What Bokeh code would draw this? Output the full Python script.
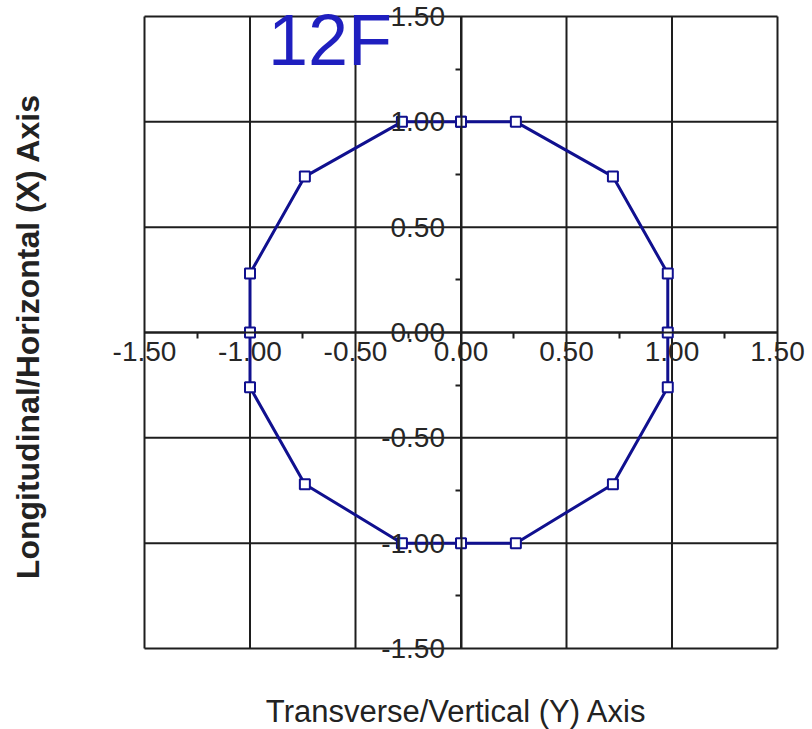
from bokeh.plotting import figure
from bokeh.models import (Range1d, LinearAxis, FixedTicker, NumeralTickFormatter,
                          Label, ColumnDataSource)
from bokeh.embed import file_html
from bokeh.resources import INLINE

# ---- data ----
x_vals = [0.0, 0.26, 0.72, 0.98, 0.98, 0.98, 0.72, 0.26, 0.0,
          -0.28, -0.74, -1.0, -1.0, -1.0, -0.74, -0.28, 0.0]
y_vals = [1.0, 1.0, 0.74, 0.28, 0.0, -0.26, -0.72, -1.0, -1.0,
          -1.0, -0.72, -0.26, 0.0, 0.28, 0.74, 1.0, 1.0]
major_ticks = [-1.5, -1.0, -0.5, 0.0, 0.5, 1.0, 1.5]
minor_ticks = [-1.25, -0.75, -0.25, 0.25, 0.75, 1.25]
title_text = "12F"
x_title = "Transverse/Vertical (Y) Axis"
y_title = "Longitudinal/Horizontal (X) Axis"

FONT = "Liberation Sans"
LINE_BLUE = "#10108f"
DARK = "#1e1e1e"

# pixel layout: box of the grid (-1.5..1.5) spans 633 x 632 px;
# the frame is padded so the edge tick labels are not clipped
SX = 633 / 3.0
SY = 632 / 3.0
pad_l, pad_r, pad_t, pad_b = 42, 33, 14, 22
x_range = Range1d(-1.5 - pad_l / SX, 1.5 + pad_r / SX)
y_range = Range1d(-1.5 - pad_b / SY, 1.5 + pad_t / SY)

p = figure(frame_width=633 + pad_l + pad_r, frame_height=632 + pad_t + pad_b,
           x_range=x_range, y_range=y_range,
           x_axis_location=None, y_axis_location=None,
           output_backend="svg", toolbar_location=None,
           min_border_left=102, min_border_right=2,
           min_border_top=2, min_border_bottom=59,
           background_fill_color="white", border_fill_color="white")

p.outline_line_color = None
for g in p.renderers + p.center:
    if g.__class__.__name__ == "Grid":
        g.visible = False

# grid box, drawn from the tick arrays
lo, hi = min(major_ticks), max(major_ticks)
n = len(major_ticks)
p.segment(x0=major_ticks, y0=[lo] * n, x1=major_ticks, y1=[hi] * n,
          line_color=DARK, line_width=2)
p.segment(x0=[lo] * n, y0=major_ticks, x1=[hi] * n, y1=major_ticks,
          line_color=DARK, line_width=2)

tick_kw = dict(
    bounds=(lo, hi),
    major_tick_in=0, major_tick_out=0,
    minor_tick_in=0, minor_tick_out=6,
    minor_tick_line_color=DARK, minor_tick_line_width=2,
    axis_line_color=DARK, axis_line_width=2,
    major_label_text_font=FONT, major_label_text_font_size="28px",
    major_label_text_color="#262626",
    formatter=NumeralTickFormatter(format="0.00"),
)

xa = LinearAxis(fixed_location=0,
                ticker=FixedTicker(ticks=major_ticks, minor_ticks=minor_ticks),
                major_label_standoff=3, **tick_kw)
ya = LinearAxis(fixed_location=0,
                ticker=FixedTicker(ticks=major_ticks, minor_ticks=minor_ticks),
                major_label_standoff=10, **tick_kw)
p.add_layout(xa, "below")
p.add_layout(ya, "left")

xt = LinearAxis(ticker=FixedTicker(ticks=[]), axis_line_color=None,
                major_tick_line_color=None, minor_tick_line_color=None,
                axis_label=x_title, axis_label_text_font=FONT,
                axis_label_text_font_size="31px", axis_label_text_font_style="normal",
                axis_label_text_color="#222222", axis_label_standoff=23)
yt = LinearAxis(ticker=FixedTicker(ticks=[]), axis_line_color=None,
                major_tick_line_color=None, minor_tick_line_color=None,
                axis_label=y_title, axis_label_text_font=FONT,
                axis_label_text_font_size="32px", axis_label_text_font_style="bold",
                axis_label_text_color="#222222", axis_label_standoff=57)
p.add_layout(xt, "below")
p.add_layout(yt, "left")

src = ColumnDataSource(dict(x=x_vals, y=y_vals))
p.line("x", "y", source=src, line_color=LINE_BLUE, line_width=3)
p.scatter("x", "y", source=src, marker="square", size=10,
          line_color=LINE_BLUE, line_width=2, fill_color="white")

p.add_layout(Label(x=-0.915, y=1.39, text=title_text, text_font=FONT,
                   text_font_size="72px", text_color="#1f1fbf",
                   text_baseline="alphabetic", text_align="left"))

open("out.html", "w").write(file_html(p, INLINE))
